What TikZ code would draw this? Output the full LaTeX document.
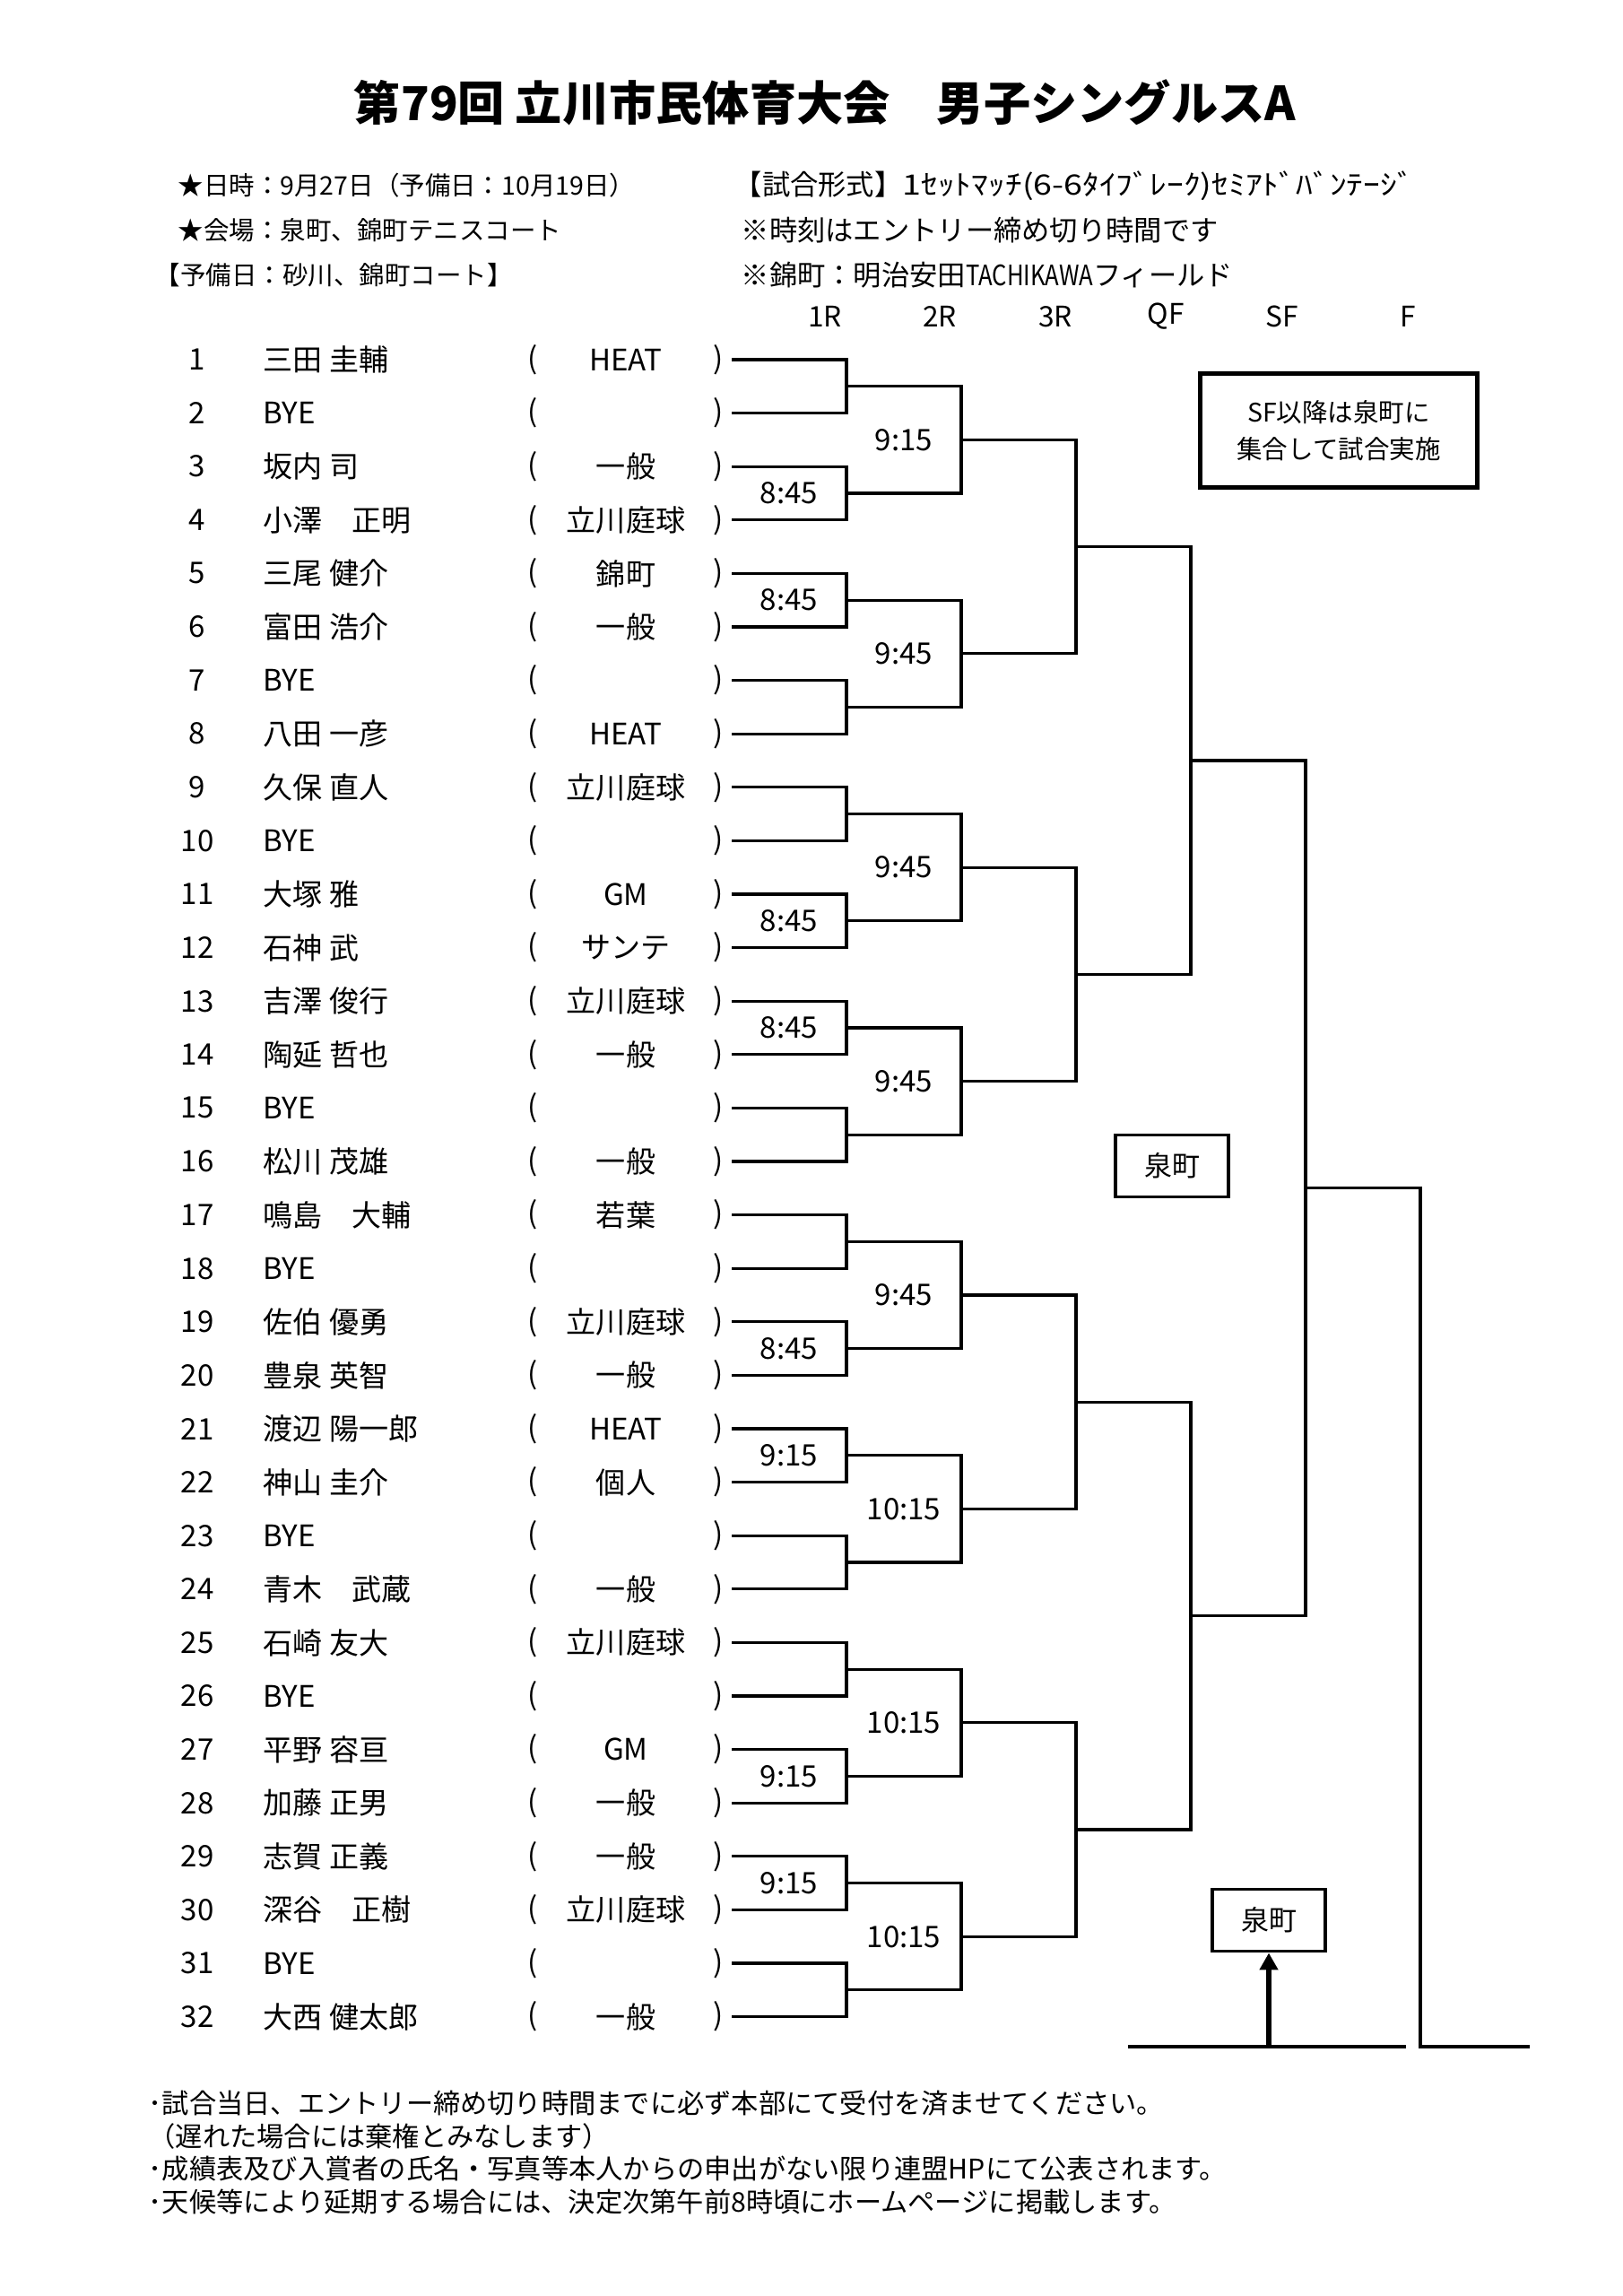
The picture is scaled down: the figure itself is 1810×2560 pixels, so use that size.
\documentclass[tikz,border=0pt]{standalone}
\usepackage{fontspec}
\setmainfont{Noto Sans CJK JP}
\usepackage{tikz}
\usetikzlibrary{calc,arrows.meta}

\newcommand{\rowsep}{59.6}

\begin{document}
\begin{tikzpicture}[x=0.01cm,y=-0.01cm,
    txt/.style={inner sep=0pt,font=\fontsize{9.4}{11}\selectfont},
    hdr/.style={inner sep=0pt,anchor=west,font=\fontsize{8.1}{10}\selectfont},
    hdrr/.style={inner sep=0pt,anchor=west,font=\fontsize{8.9}{10}\selectfont},
    note/.style={inner sep=0pt,anchor=west,font=\fontsize{8.6}{10}\selectfont},
    bracket/.style={line width=0.9pt},
    timelbl/.style={inner sep=0pt,font=\fontsize{9.4}{11}\selectfont},
    venue/.style={draw,line width=1.1pt,inner sep=0pt,minimum width=1.26cm,
      minimum height=0.69cm,font=\fontsize{8.8}{10}\selectfont}]
\useasboundingbox (0,0) rectangle (1810,2560);

% title and header
\node[inner sep=0pt,font=\bfseries\fontsize{14.85}{16}\selectfont] (title) at (920,114)
  {第79回 立川市民体育大会　男子シングルスA};
\node[hdr] (date) at (198,207) {★日時：9月27日（予備日：10月19日）};
\node[hdr] (place) at (198,257) {★会場：泉町、錦町テニスコート};
\node[hdr] (spare) at (172,307) {【予備日：砂川、錦町コート】};
\node[hdrr] (format) at (818,207) {【試合形式】\scalebox{1.2}[1]{1ｾｯﾄﾏｯﾁ(6-6ﾀｲﾌﾞﾚｰｸ)ｾﾐｱﾄﾞﾊﾞﾝﾃｰｼﾞ}};
\node[hdrr] (entry) at (826,257) {※時刻はエントリー締め切り時間です};
\node[hdrr] (field) at (826,307) {※錦町：明治安田\scalebox{0.82}[1]{TACHIKAWA}フィールド};

\foreach \x/\t in {920/1R,1048/2R,1177/3R,1300/QF,1430/SF,1570/F}
  \node[inner sep=0pt,font=\fontsize{9}{10}\selectfont] (rd-\t) at (\x,353) {\t};

% players
\foreach \i/\nm/\cl in {1/三田 圭輔/HEAT,2/BYE/,3/坂内 司/一般,4/小澤　正明/立川庭球,
    5/三尾 健介/錦町,6/富田 浩介/一般,7/BYE/,8/八田 一彦/HEAT,
    9/久保 直人/立川庭球,10/BYE/,11/大塚 雅/GM,12/石神 武/サンテ,
    13/吉澤 俊行/立川庭球,14/陶延 哲也/一般,15/BYE/,16/松川 茂雄/一般,
    17/鳴島　大輔/若葉,18/BYE/,19/佐伯 優勇/立川庭球,20/豊泉 英智/一般,
    21/渡辺 陽一郎/HEAT,22/神山 圭介/個人,23/BYE/,24/青木　武蔵/一般,
    25/石崎 友大/立川庭球,26/BYE/,27/平野 容亘/GM,28/加藤 正男/一般,
    29/志賀 正義/一般,30/深谷　正樹/立川庭球,31/BYE/,32/大西 健太郎/一般} {
  \pgfmathsetmacro\y{401+(\i-1)*\rowsep}
  \node[txt] (no\i) at (220,\y) {\i};
  \node[txt,anchor=west] (nm\i) at (293,\y) {\nm};
  \node[txt] (lp\i) at (594,\y) {(};
  \node[txt] (cl\i) at (698,\y) {\cl};
  \node[txt] (rp\i) at (801,\y) {)};
  \coordinate (m-0-\i) at (816,\y);
}

% bracket
\foreach \r/\n/\x in {1/16/944,2/8/1072,3/4/1200,4/2/1328,5/1/1456} {
  \foreach \k in {1,...,\n} {
    \pgfmathtruncatemacro\a{2*\k-1}
    \pgfmathtruncatemacro\b{2*\k}
    \pgfmathtruncatemacro\p{\r-1}
    \pgfmathsetmacro\yy{401+((\k-1)*2^\r+(2^\r-1)/2)*\rowsep}
    \coordinate (m-\r-\k) at (\x,\yy);
    \draw[bracket] (m-\p-\a) -| (m-\r-\k) |- (m-\p-\b);
  }
}
\coordinate (f-top) at ($(m-5-1)+(128,0)$);
\coordinate (f-bot) at (1584,2282);
\coordinate (f-end) at (1706,2282);
\draw[bracket] (m-5-1) -- (f-top) -- (f-bot) -- (f-end);

% start times
\foreach \r/\k/\t in {1/2/8:45,1/3/8:45,1/6/8:45,1/7/8:45,1/10/8:45,1/11/9:15,
    1/14/9:15,1/15/9:15,2/1/9:15,2/2/9:45,2/3/9:45,2/4/9:45,2/5/9:45,
    2/6/10:15,2/7/10:15,2/8/10:15}
  \node[timelbl] (t-\r-\k) at ($(m-\r-\k)+(-64,0)$) {\t};

% venues
\node[draw,line width=1.2pt,inner sep=0pt,minimum width=3.09cm,minimum height=1.27cm,
  align=center,font=\fontsize{8.1}{11.7}\selectfont] (sfnote) at (1493,480)
  {SF以降は泉町に\\集合して試合実施};
\node[venue] (izumi1) at (1307,1300) {泉町};
\node[venue] (izumi2) at (1415,2141) {泉町};
\coordinate (bl) at (1258,2282);
\coordinate (br) at (1568,2282);
\coordinate (arr) at (1415,2282);
\draw[bracket] (bl) -- (br);
\draw[line width=1.5pt,-{Triangle[length=0.19cm,width=0.2cm]}] (arr) -- (izumi2.south);

% notes
\node[note] (n1) at (165,2345) {･試合当日、エントリー締め切り時間までに必ず本部にて受付を済ませてください。};
\node[note] (n2) at (165,2382) {（遅れた場合には棄権とみなします）};
\node[note] (n3) at (165,2418) {･成績表及び入賞者の氏名・写真等本人からの申出がない限り連盟HPにて公表されます。};
\node[note] (n4) at (165,2455) {･天候等により延期する場合には、決定次第午前8時頃にホームページに掲載します。};
\end{tikzpicture}
\end{document}
